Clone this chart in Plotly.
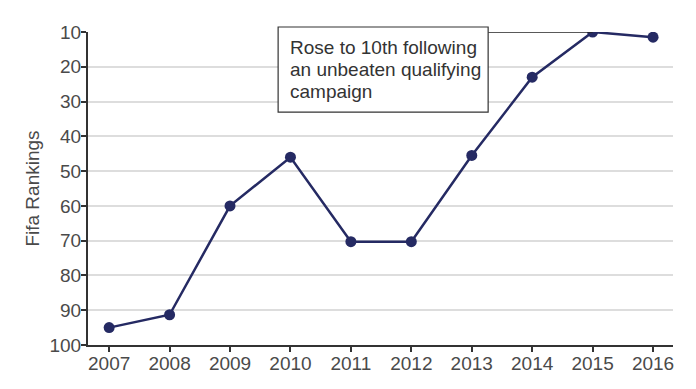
import plotly.graph_objects as go

years = [2007, 2008, 2009, 2010, 2011, 2012, 2013, 2014, 2015, 2016]
rankings = [95, 91.3, 60, 46, 70.3, 70.3, 45.5, 23, 10, 11.5]
y_ticks = [10, 20, 30, 40, 50, 60, 70, 80, 90, 100]
note_lines = ["Rose to 10th following", "an unbeaten qualifying", "campaign"]
note_year = 2015
note_rank = 10

x_range = [2006.65, 2016.33]
box_x0, box_x1 = 0.325, 0.684

fig = go.Figure()
fig.add_trace(go.Scatter(
    x=years, y=rankings, mode="lines+markers",
    line=dict(color="#252a63", width=2.5),
    marker=dict(color="#252a63", size=11),
    showlegend=False,
))

# connector from note box to the 2015 point
fig.add_shape(type="line", xref="x", yref="y",
              x0=x_range[0] + box_x1 * (x_range[1] - x_range[0]), x1=note_year,
              y0=note_rank, y1=note_rank,
              line=dict(color="#222222", width=1.6))
# note box
fig.add_shape(type="rect", xref="paper", yref="paper",
              x0=box_x0, x1=box_x1, y0=0.744, y1=1.016,
              line=dict(color="#333333", width=1.2), fillcolor="white", layer="above")

note_font = dict(family="Liberation Sans, Arial, sans-serif", size=19, color="#333333")
for i, line in enumerate(note_lines):
    fig.add_annotation(
        xref="paper", yref="paper", x=0.342, y=0.952 - i * 0.0703,
        xanchor="left", yanchor="middle", align="left",
        text=line, showarrow=False, font=note_font,
    )

axis_font = dict(family="Liberation Sans, Arial, sans-serif", size=19, color="#4a4a4a")
fig.update_layout(
    width=696, height=389,
    margin=dict(l=80, r=31, t=24, b=52),
    paper_bgcolor="white", plot_bgcolor="white",
    xaxis=dict(
        range=x_range, tickmode="array", tickvals=years,
        ticktext=[str(y) for y in years],
        showgrid=False, showline=True, linecolor="#333333", linewidth=2,
        ticks="outside", ticklen=5, tickcolor="#333333", tickwidth=1.5,
        tickfont=axis_font, zeroline=False, automargin=False,
        ticklabelstandoff=-5,
    ),
    yaxis=dict(
        range=[100, 10], tickmode="array", tickvals=y_ticks,
        showgrid=True, gridcolor="#dddddd", gridwidth=1.5,
        showline=True, linecolor="#333333", linewidth=2,
        ticks="outside", ticklen=5, tickcolor="#333333", tickwidth=1.5,
        tickfont=axis_font, zeroline=False, automargin=False,
        ticklabelstandoff=-4,
        title=dict(text="Fifa Rankings", font=axis_font, standoff=5),
    ),
)

fig.write_html("out.html")
